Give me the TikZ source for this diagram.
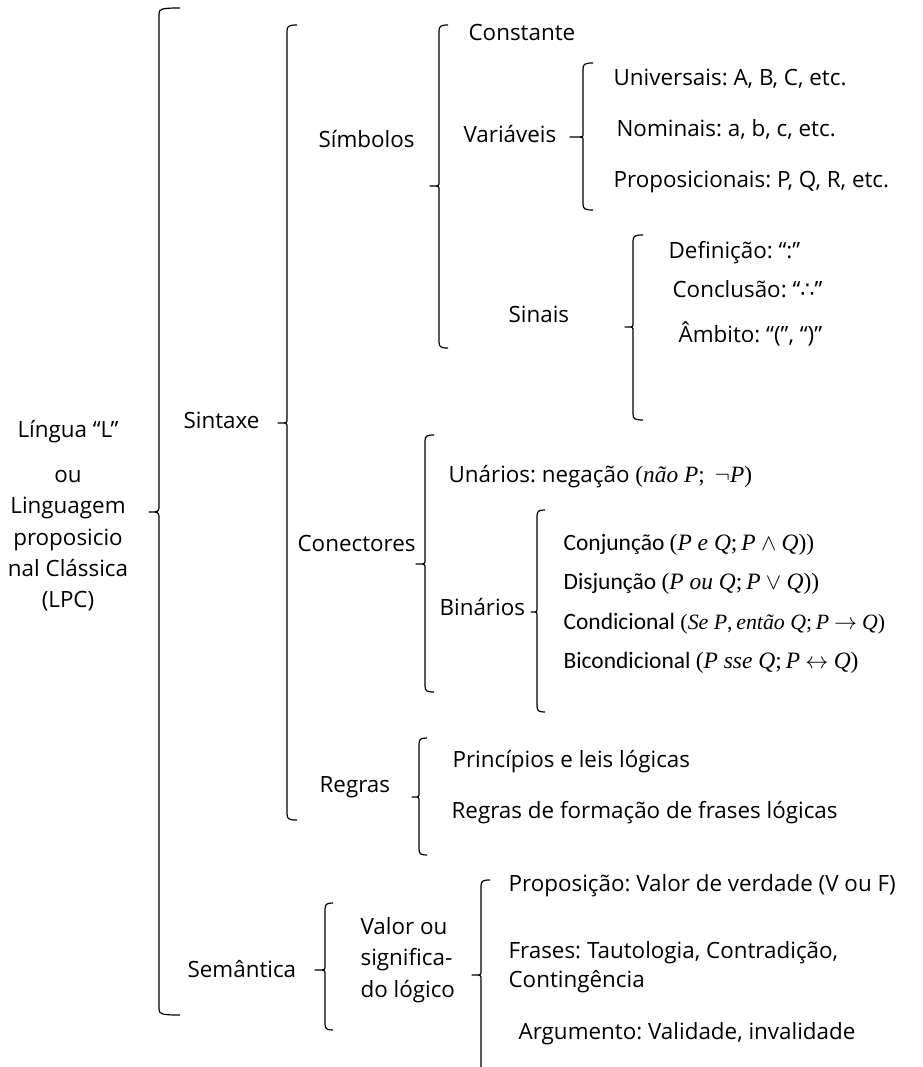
\documentclass[tikz,border=0pt]{standalone}
\usepackage{fontspec}
\setmainfont{Open Sans}
\newfontfamily\leaffont{Carlito}
\newfontfamily\formfont{Liberation Serif}
\newfontfamily\symfont{DejaVu Sans}
% italic letters and upright signs of the formulas
\newcommand{\fv}[1]{{\formfont\itshape #1}}
\newcommand{\fp}[1]{{\formfont #1}}
% left brace: x, top, tick, bottom, hook width, tick length, tick bend
\newcommand{\lbr}[7]{%
  \draw (#1+#5,#2) .. controls (#1+2,#2) and (#1,#2+1) .. (#1,#2+6)
     -- (#1,#3-#7) .. controls (#1,#3) .. (#1-#6,#3)
     .. controls (#1,#3) .. (#1,#3+#7)
     -- (#1,#4-6) .. controls (#1,#4-1) and (#1+2,#4) .. (#1+#5,#4);
}
\begin{document}
\frenchspacing
\begin{tikzpicture}[x=0.75pt,y=-0.75pt,line width=0.9pt,line join=round,
  lbl/.style={anchor=west,inner sep=0pt,font=\fontsize{16.8}{22}\selectfont,
              text height=12pt,text depth=3.5pt},
  multi/.style={anchor=west,inner sep=0pt,align=left,
              font=\fontsize{16.8}{23.5}\selectfont},
  formula/.style={anchor=west,inner sep=0pt,font=\leaffont\fontsize{17.6}{22}\selectfont,
              text height=12pt,text depth=3.5pt}]
\useasboundingbox (0,0) rectangle (923,1067);
\clip (0,0) rectangle (923,1067);

% root
\node[inner sep=0pt,align=center,font=\fontsize{16.8}{23.5}\selectfont] (root) at (68,516)
  {Língua “L”\\[10pt]ou\\Linguagem\\proposicio\\nal Clássica\\(LPC)};

% first level
\lbr{159}{8}{512}{1015}{21}{10}{7}
\node[lbl] (sintaxe) at (183,423) {Sintaxe};
\node[lbl] (semantica) at (187,972) {Semântica};

% syntax
\lbr{287}{25}{423}{820}{10}{9}{2}
\node[lbl] (simbolos) at (318,142) {Símbolos};
\node[lbl] (conectores) at (297,546) {Conectores};
\node[lbl] (regras) at (319,787) {Regras};

% symbols
\lbr{439}{25}{186}{348}{9}{9}{2}
\node[lbl] (constante) at (468,35) {Constante};
\node[lbl] (variaveis) at (463,137) {Variáveis};
\node[lbl] (sinais) at (508,317) {Sinais};

\lbr{583}{63}{137}{210}{10}{13}{2}
\node[lbl] (universais) at (613,80) {Universais: A, B, C, etc.};
\node[lbl] (nominais) at (616,131) {Nominais: a, b, c, etc.};
\node[lbl] (proposicionais) at (613,182) {Proposicionais: P, Q, R, etc.};

\lbr{633}{235}{327}{420}{10}{8}{2}
\node[lbl] (definicao) at (668,253) {Definição: “:”};
\node[lbl] (conclusao) at (672,292) {Conclusão: “{\symfont ∴}”};
\node[lbl] (ambito) at (678,337) {Âmbito: “(”, “)”};

% connectives
\lbr{425}{435}{564}{692}{9}{9}{2}
\node[lbl] (unarios) at (448,477)
  {Unários: negação {\fontsize{17.5}{22}\selectfont\fp{(}\fv{não P}\fp{;}\, $\neg$\fv{P}\fp{)}}};
\node[lbl] (binarios) at (439,610) {Binários};

\lbr{537}{510}{612}{712}{8}{6}{2}
\node[formula] (conj) at (563,545)
  {Conjunção \fp{(}\fv{P e Q}\fp{;}\,\fv{P} $\wedge$ \fv{Q}\fp{))}};
\node[formula] (disj) at (563,584)
  {Disjunção \fp{(}\fv{P ou Q}\fp{;}\,\fv{P} $\vee$ \fv{Q}\fp{))}};
\node[formula] (cond) at (563,624)
  {Condicional {\fontsize{16.4}{22}\selectfont\fp{(}\fv{Se P}\fp{,}\,\fv{então Q}\fp{;}\,\fv{P} $\rightarrow$ \fv{Q}\fp{)}}};
\node[formula] (bicond) at (563,663)
  {Bicondicional \fp{(}\fv{P sse Q}\fp{;}\,\fv{P} $\leftrightarrow$ \fv{Q}\fp{)}};

% rules
\lbr{419}{738}{797}{855}{8}{7}{2}
\node[lbl] (principios) at (452,762) {Princípios e leis lógicas};
\node[lbl] (formacao) at (451,813) {Regras de formação de frases lógicas};

% semantics
\lbr{325}{903}{970}{1030}{8}{10}{2}
\node[multi] (valor) at (360,960) {Valor ou\\significa-\\do lógico};

\lbr{481}{880}{975}{1090}{9}{9}{2}
\node[lbl] (proposicao) at (508,886) {Proposição: Valor de verdade (V ou F)};
\node[multi,font=\fontsize{16.8}{22}\selectfont] (frases) at (508,967)
  {Frases: Tautologia, Contradição,\\Contingência};
\node[lbl] (argumento) at (518,1034) {Argumento: Validade, invalidade};
\end{tikzpicture}
\end{document}
